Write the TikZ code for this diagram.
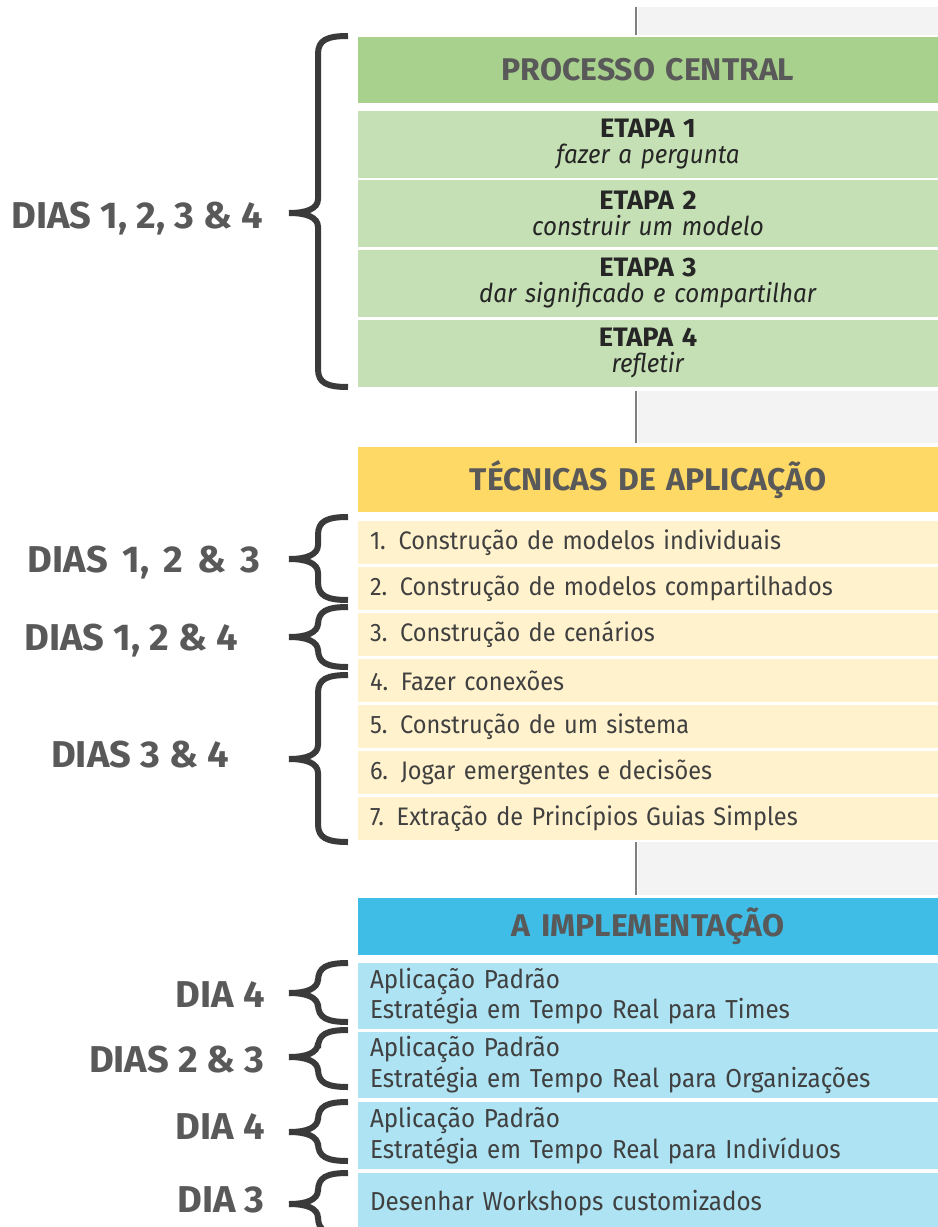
\documentclass[tikz,border=0pt]{standalone}
\usepackage{fontspec}
\setmainfont{Fira Sans}[FakeStretch=0.93]
\newfontfamily\widefam{Fira Sans}[FakeStretch=1.02]
\definecolor{headgreen}{HTML}{A9D18E}
\definecolor{stepgreen}{HTML}{C5E0B4}
\definecolor{headyellow}{HTML}{FFD966}
\definecolor{itemyellow}{HTML}{FFF2CC}
\definecolor{headblue}{HTML}{3FBDE6}
\definecolor{rowblue}{HTML}{ADE3F3}
\definecolor{bandgray}{HTML}{F3F3F3}
\definecolor{stemgray}{HTML}{7F7F7F}
\definecolor{bracegray}{HTML}{3A3A3A}
\definecolor{titlegray}{HTML}{595959}
\definecolor{textgray}{HTML}{404040}
\tikzset{
  colbox/.style={anchor=north west, rectangle, inner xsep=9pt, inner ysep=0pt,
    outer sep=0pt, text width=417pt, minimum height=#1},
  headbox/.style={colbox=#1, align=center, text=titlegray,
    font=\fontsize{23.5}{26}\widefam\bfseries},
  stepbox/.style={colbox=50.25pt, fill=stepgreen, align=center, text=black!85,
    font=\fontsize{19.5}{19.5}\selectfont},
  itembox/.style={colbox=32.25pt, fill=itemyellow, align=left, text=textgray,
    font=\fontsize{19}{20}\selectfont},
  rowbox/.style={colbox=#1, fill=rowblue, align=left, text=textgray,
    font=\fontsize{19.5}{23}\selectfont},
  daylabel/.style={anchor=east, inner sep=0pt, text=titlegray,
    font=\fontsize{28}{30}\widefam\bfseries},
  bracestyle/.style={draw=bracegray, line width=4.5pt, line cap=butt},
  stem/.style={draw=stemgray, line width=1.5pt}
}
\newcommand{\steptitle}[1]{{\fontsize{20}{19.5}\widefam\bfseries #1}}
% curly brace from top end to tip to bottom end (pixel units)
\newcommand{\daybrace}[3]{%
  \draw[bracestyle] (348,#1) .. controls (327,#1) and (318,#1+4) .. (318,#1+18)
    -- (318,#2-14) .. controls (318,#2-4) and (306,#2) .. (289,#2);
  \draw[bracestyle] (289,#2) .. controls (306,#2) and (318,#2+4) .. (318,#2+14)
    -- (318,#3-18) .. controls (318,#3-4) and (327,#3) .. (348,#3);}
\begin{document}
\begin{tikzpicture}[x=0.75pt, y=-0.75pt]
  \useasboundingbox (0,0) rectangle (938,1227);

  % gray bands with stems
  \fill[bandgray] (638,7) rectangle (938,35);
  \draw[stem] (636,7) -- (636,35);
  \fill[bandgray] (638,391) rectangle (938,443);
  \draw[stem] (636,391) -- (636,443);
  \fill[bandgray] (638,842) rectangle (938,895);
  \draw[stem] (636,842) -- (636,895);

  % central process
  \node[headbox=49.5pt, fill=headgreen] (central) at (358,37) {PROCESSO CENTRAL};
  \node[stepbox] (step1) at (358,111) {\steptitle{ETAPA 1}\\\textit{fazer a pergunta}};
  \node[stepbox] (step2) at (358,180) {\steptitle{ETAPA 2}\\\textit{construir um modelo}};
  \node[stepbox] (step3) at (358,250) {\steptitle{ETAPA 3}\\\textit{dar significado e compartilhar}};
  \node[stepbox] (step4) at (358,320) {\steptitle{ETAPA 4}\\\textit{refletir}};

  % techniques
  \node[headbox=48.75pt, fill=headyellow] (tech) at (358,447) {TÉCNICAS DE APLICAÇÃO};
  \node[itembox] (item1) at (358,521) {1. Construção de modelos individuais};
  \node[itembox] (item2) at (358,567) {2. Construção de modelos compartilhados};
  \node[itembox] (item3) at (358,613) {3. Construção de cenários};
  \node[itembox] (item4) at (358,659) {4. Fazer conexões};
  \node[itembox] (item5) at (358,705) {5. Construção de um sistema};
  \node[itembox] (item6) at (358,751) {6. Jogar emergentes e decisões};
  \node[itembox] (item7) at (358,797) {7. Extração de Princípios Guias Simples};

  % implementation
  \node[headbox=42.75pt, fill=headblue] (impl) at (358,898) {A IMPLEMENTAÇÃO};
  \node[rowbox=49.5pt] (row1) at (358,963) {Aplicação Padrão\\Estratégia em Tempo Real para Times};
  \node[rowbox=49.5pt] (row2) at (358,1032) {Aplicação Padrão\\Estratégia em Tempo Real para Organizações};
  \node[rowbox=50.25pt] (row3) at (358,1102) {Aplicação Padrão\\Estratégia em Tempo Real para Indivíduos};
  \node[rowbox=45pt] (row4) at (358,1173) {Desenhar Workshops customizados};

  % day braces
  \daybrace{36}{213}{387}
  \daybrace{517}{559}{600}
  \daybrace{607}{637}{667}
  \daybrace{675}{759}{842}
  \daybrace{963}{993}{1022}
  \daybrace{1030}{1057}{1087}
  \daybrace{1102}{1132}{1161}
  \daybrace{1173}{1204}{1235}

  % day labels
  \node[daylabel] (days1) at (263,219) {DIAS 1, 2, 3 \& 4};
  \node[daylabel] (days2) at (261,563) {DIAS\hspace{4pt} 1,\hspace{4pt} 2\hspace{4pt} \&\hspace{4pt} 3};
  \node[daylabel] (days3) at (238,641) {DIAS 1, 2 \& 4};
  \node[daylabel] (days4) at (229,755) {DIAS 3 \& 4};
  \node[daylabel] (days5) at (265,995) {DIA 4};
  \node[daylabel] (days6) at (265,1060) {DIAS 2 \& 3};
  \node[daylabel] (days7) at (265,1127) {DIA 4};
  \node[daylabel] (days8) at (265,1200) {DIA 3};
\end{tikzpicture}
\end{document}
